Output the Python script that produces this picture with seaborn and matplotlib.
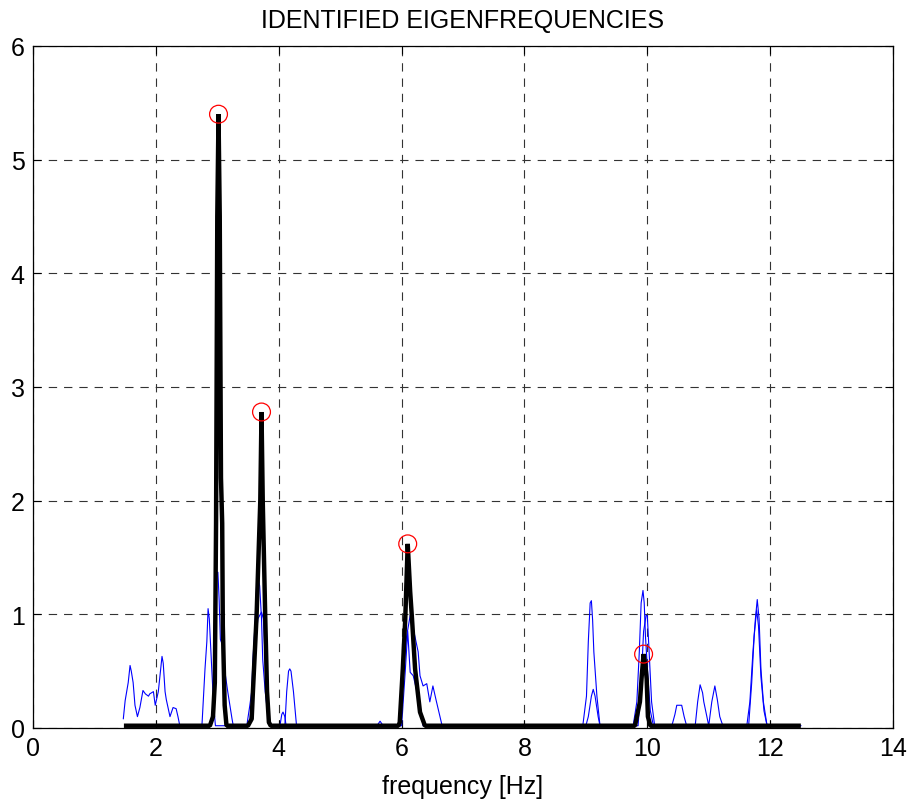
import matplotlib
matplotlib.use("Agg")
import matplotlib.pyplot as plt
from matplotlib import font_manager
import seaborn as sns

# ---- data -------------------------------------------------------------
# thin traces (two spectra)
blue1_freq = [1.47, 1.50, 1.55, 1.58, 1.60, 1.63, 1.66, 1.70, 1.74, 1.79, 1.83, 1.88, 1.90,
              1.96, 1.99, 2.04, 2.10, 2.12, 2.15, 2.17, 2.23, 2.28, 2.33, 2.36, 2.39,
              2.75, 2.80, 2.83, 2.85, 2.87, 2.91, 2.94, 2.97,
              3.48, 3.53, 3.56, 3.58, 3.61, 3.64, 3.66, 3.69, 3.72, 3.74, 3.78, 3.83, 3.86,
              4.02, 4.05, 4.07, 4.10, 4.12,
              5.60, 5.65, 5.70,
              5.97, 6.03, 6.08, 6.14, 6.20, 6.27, 6.30, 6.35, 6.41, 6.46, 6.51, 6.56, 6.66,
              8.95, 9.01, 9.04, 9.07, 9.09, 9.11, 9.13, 9.18, 9.23,
              9.77, 9.83, 9.87, 9.90, 9.93, 9.95, 9.97, 10.01, 10.05, 10.10,
              10.40, 10.45, 10.48, 10.56, 10.60, 10.64,
              10.78, 10.82, 10.86, 10.90, 10.92, 10.97, 11.00, 11.05, 11.10, 11.14, 11.18, 11.23,
              11.62, 11.67, 11.72, 11.76, 11.79, 11.82, 11.85, 11.89, 11.95, 12.50]
blue1_amp = [0.08, 0.24, 0.40, 0.55, 0.50, 0.40, 0.20, 0.10, 0.18, 0.33, 0.30, 0.28, 0.30,
             0.32, 0.20, 0.32, 0.63, 0.57, 0.32, 0.25, 0.10, 0.18, 0.17, 0.10, 0.02,
             0.02, 0.52, 0.76, 1.05, 0.96, 0.52, 0.20, 0.02,
             0.02, 0.20, 0.32, 0.60, 0.87, 1.25, 1.34, 1.25, 0.96, 0.60, 0.32, 0.08, 0.02,
             0.02, 0.12, 0.14, 0.10, 0.02,
             0.02, 0.06, 0.02,
             0.02, 0.45, 0.80, 0.99, 0.85, 0.67, 0.46, 0.37, 0.39, 0.23, 0.37, 0.25, 0.02,
             0.02, 0.28, 0.76, 1.10, 1.12, 0.95, 0.67, 0.28, 0.02,
             0.02, 0.23, 0.67, 1.10, 1.21, 1.10, 0.81, 0.45, 0.15, 0.02,
             0.02, 0.12, 0.20, 0.20, 0.10, 0.02,
             0.02, 0.23, 0.38, 0.31, 0.23, 0.10, 0.02, 0.23, 0.37, 0.25, 0.10, 0.02,
             0.02, 0.23, 0.67, 0.96, 1.13, 0.96, 0.52, 0.23, 0.02, 0.02]

blue2_freq = [1.50, 2.90, 2.93, 2.96, 2.99, 3.01, 3.03, 3.05, 3.09, 3.11, 3.17, 3.24, 3.26,
              3.52, 3.58, 3.62, 3.66, 3.72, 3.75, 3.80, 3.86,
              4.10, 4.13, 4.16, 4.18, 4.20, 4.24, 4.29,
              6.00, 6.06, 6.10, 6.14, 6.19, 6.25, 6.30, 6.35,
              9.00, 9.04, 9.09, 9.12, 9.15, 9.20, 9.23,
              9.85, 9.90, 9.94, 9.98, 10.00, 10.03, 10.07, 10.12,
              11.65, 11.70, 11.74, 11.78, 11.81, 11.85, 11.90, 11.95, 12.50]
blue2_amp = [0.02, 0.02, 0.10, 0.60, 1.37, 1.37, 1.13, 0.78, 0.72, 0.55, 0.32, 0.08, 0.02,
             0.02, 0.32, 0.70, 0.96, 1.02, 0.96, 0.37, 0.02,
             0.02, 0.32, 0.50, 0.52, 0.50, 0.32, 0.02,
             0.02, 0.50, 0.85, 0.49, 0.46, 0.32, 0.20, 0.02,
             0.02, 0.10, 0.28, 0.34, 0.28, 0.10, 0.02,
             0.02, 0.40, 0.85, 0.99, 0.99, 0.67, 0.23, 0.02,
             0.02, 0.40, 0.81, 1.04, 0.90, 0.45, 0.15, 0.02, 0.02]

# identified eigenfrequencies and their peak amplitudes
peak_freq = [3.02, 3.72, 6.10, 9.94]
peak_amp = [5.40, 2.78, 1.62, 0.65]

# thick combined curve
black_freq = [1.48, 2.88, 2.93, 2.96, 2.98, 3.00, 3.02, 3.04, 3.06, 3.08, 3.09, 3.12, 3.15,
              3.50, 3.56, 3.58, 3.64, 3.70, 3.72, 3.74, 3.78, 3.81, 3.84, 3.87,
              5.95, 5.97, 6.02, 6.06, 6.10, 6.14, 6.17, 6.22, 6.30, 6.38,
              9.80, 9.88, 9.91, 9.94, 9.97, 9.99, 10.01, 10.05, 12.50]
black_amp = [0.02, 0.02, 0.10, 0.40, 1.80, 4.50, 5.40, 4.50, 2.20, 1.80, 0.90, 0.20, 0.02,
             0.02, 0.08, 0.32, 0.99, 2.00, 2.78, 2.00, 0.99, 0.32, 0.05, 0.02,
             0.02, 0.05, 0.52, 0.96, 1.62, 1.20, 0.96, 0.52, 0.14, 0.02,
             0.02, 0.23, 0.46, 0.65, 0.55, 0.43, 0.10, 0.02, 0.02]

x_ticks = [0, 2, 4, 6, 8, 10, 12, 14]
y_ticks = [0, 1, 2, 3, 4, 5, 6]

# ---- style ------------------------------------------------------------
sns.set_style("white")
available = {f.name for f in font_manager.fontManager.ttflist}
if "Liberation Sans Narrow" in available:
    families = ["Liberation Sans Narrow", "DejaVu Sans"]
    fsize = 21.5
else:
    families = ["Liberation Sans", "DejaVu Sans"]
    fsize = 18
plt.rcParams["font.family"] = families
plt.rcParams["lines.scale_dashes"] = False
plt.rcParams["text.color"] = "black"
plt.rcParams["axes.labelcolor"] = "black"

fig = plt.figure(figsize=(9.11, 8.03), dpi=100)
ax = fig.add_axes([33 / 911, 1 - 729 / 803, 860 / 911, 682 / 803])

sns.lineplot(x=blue1_freq, y=blue1_amp, sort=False, estimator=None, color="#0000ff",
             linewidth=0.8, ax=ax)
sns.lineplot(x=blue2_freq, y=blue2_amp, sort=False, estimator=None, color="#0000ff",
             linewidth=0.8, ax=ax)
sns.lineplot(x=black_freq, y=black_amp, sort=False, estimator=None, color="black",
             linewidth=3.2, ax=ax, solid_joinstyle="bevel", solid_capstyle="butt")
sns.scatterplot(x=peak_freq, y=peak_amp, marker="o", s=165, facecolor="none",
                edgecolor="red", linewidth=0.9, ax=ax, zorder=5)

ax.set_xlim(0, 14)
ax.set_ylim(0, 6)
ax.set_xticks(x_ticks)
ax.set_yticks(y_ticks)
ax.set_xticklabels([str(v) for v in x_ticks], fontsize=fsize)
ax.set_yticklabels([str(v) for v in y_ticks], fontsize=fsize)
ax.tick_params(direction="in", length=6, width=0.8, top=True, right=True,
               bottom=True, left=True, pad=6, colors="black")
ax.grid(True, color="#333333", linestyle=(0, (6, 5)), linewidth=0.8)
ax.set_axisbelow(True)
for sp in ax.spines.values():
    sp.set_color("black")
    sp.set_linewidth(0.9)

ax.set_title("IDENTIFIED EIGENFREQUENCIES", fontsize=fsize, pad=14, color="black")
ax.set_xlabel("frequency [Hz]", fontsize=fsize, labelpad=10, color="black")
ax.set_ylabel("")

fig.savefig("out.png", dpi=100)
